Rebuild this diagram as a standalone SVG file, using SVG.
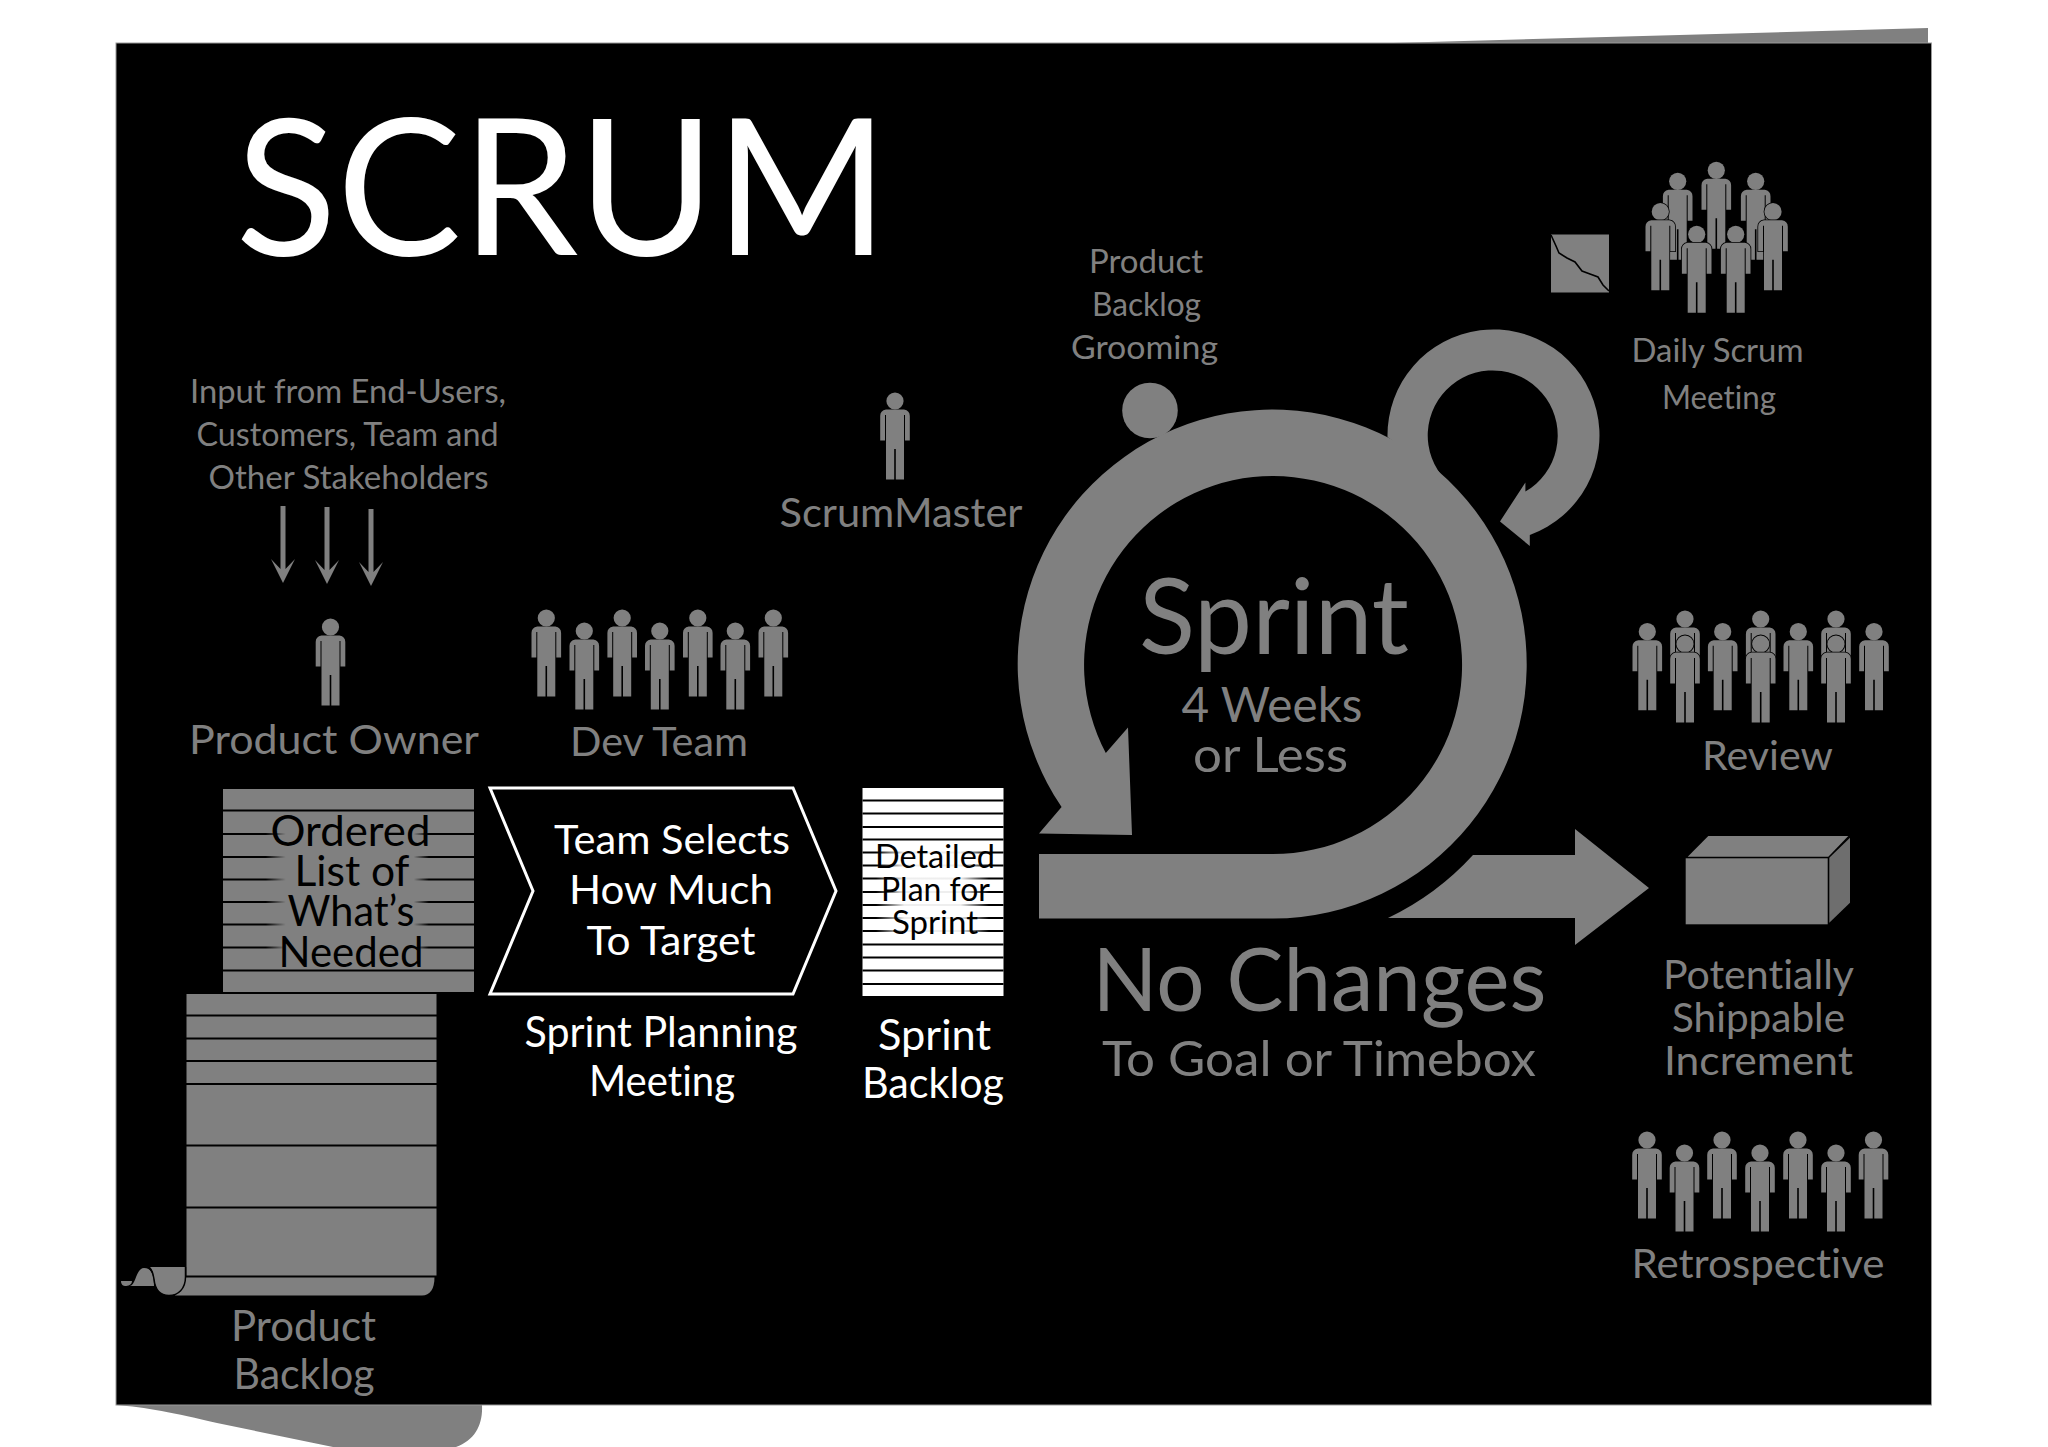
<svg xmlns="http://www.w3.org/2000/svg" xmlns:xlink="http://www.w3.org/1999/xlink" width="2048" height="1447" viewBox="0 0 2048 1447">
<style>
text{font-family:"Lato","Liberation Sans",sans-serif;text-anchor:middle;font-variant-ligatures:none}
.g{fill:#808080}.w{fill:#fff}.k{fill:#000}
.front{stroke:#000;stroke-width:1.6;paint-order:stroke}
.ln{stroke:#000;stroke-width:2;fill:none}
.lnf{stroke:url(#fadeO);stroke-width:2;fill:none}
.lns{stroke:url(#fadeS);stroke-width:2;fill:none}
</style>
<defs>
<g id="person" fill="#808080">
<circle cx="0" cy="0" r="8.6"/>
<path d="M-9 8.5L9 8.5Q14.8 9.5 14.8 15L14.8 39.5L10 39.5L10 14L9 14L9 78.5L0.8 78.5L0.8 48L-0.8 48L-0.8 78.5L-9 78.5L-9 14L-10 14L-10 39.5L-14.8 39.5L-14.8 15Q-14.8 9.5-9 8.5Z"/>
</g>
<path id="input-arrow" fill="#808080" d="M-2.500-77L2.500-77L2.500-14L12-24L0 0L-12-24L-2.500-14Z"/>
<linearGradient id="fadeO" gradientUnits="userSpaceOnUse" x1="223" y1="0" x2="474" y2="0">
<stop offset="0" stop-color="#000"/><stop offset=".17" stop-color="#000"/><stop offset=".25" stop-color="#808080"/><stop offset=".76" stop-color="#808080"/><stop offset=".82" stop-color="#000"/><stop offset="1" stop-color="#000"/>
</linearGradient>
<linearGradient id="fadeS" gradientUnits="userSpaceOnUse" x1="862" y1="0" x2="1003" y2="0">
<stop offset="0" stop-color="#000"/><stop offset=".1" stop-color="#000"/><stop offset=".3" stop-color="#eee"/><stop offset=".7" stop-color="#eee"/><stop offset=".9" stop-color="#000"/><stop offset="1" stop-color="#000"/>
</linearGradient>
</defs>
<rect width="2048" height="1447" fill="#fff"/>
<g id="page">
<path class="g" d="M1393 43L1928 28L1928 43Z"/>
<path class="g" d="M116 1405C145 1407 175 1413 217 1423L333 1447L456 1447C475 1440 483 1425 482 1405Z"/>
<rect x="116" y="43" width="1815.5" height="1362" fill="#000" stroke="#999" stroke-width="1"/>
</g>
<text id="title" class="w" x="562" y="255" font-size="191" textLength="653" lengthAdjust="spacingAndGlyphs">SCRUM</text>

<g id="connectors">
<use href="#input-arrow" x="283" y="583"/>
<use href="#input-arrow" x="327" y="584"/>
<use href="#input-arrow" x="371" y="586"/>
</g>

<g id="stakeholders">
<text class="g" x="348" y="403" font-size="33" textLength="316" lengthAdjust="spacingAndGlyphs">Input from End-Users,</text>
<text class="g" x="347.500" y="446" font-size="33" textLength="302" lengthAdjust="spacingAndGlyphs">Customers, Team and</text>
<text class="g" x="348.500" y="489" font-size="33" textLength="280" lengthAdjust="spacingAndGlyphs">Other Stakeholders</text>
</g>
<g id="product-owner">
<use href="#person" x="330.500" y="627"/>
<text class="g" x="334" y="754" font-size="41" textLength="290" lengthAdjust="spacingAndGlyphs">Product Owner</text>
</g>
<g id="dev-team">
<use href="#person" x="546.300" y="618"/><use href="#person" x="584.300" y="631"/><use href="#person" x="622.200" y="618"/><use href="#person" x="659.800" y="631"/><use href="#person" x="697.800" y="618"/><use href="#person" x="735.300" y="631"/><use href="#person" x="773.300" y="618"/>
<text class="g" x="659" y="756" font-size="41" textLength="178" lengthAdjust="spacingAndGlyphs">Dev Team</text>
</g>
<g id="scrummaster">
<use href="#person" x="895" y="401"/>
<text class="g" x="901" y="527" font-size="41" textLength="243" lengthAdjust="spacingAndGlyphs">ScrumMaster</text>
</g>

<g id="ordered-list">
<rect class="g" x="223" y="789" width="251" height="203"/>
<path class="ln" d="M223 810.500H474M223 970.500H474"/>
<path class="lnf" d="M223 834H474M223 857H474M223 879.500H474M223 902H474M223 924.500H474M223 947.500H474"/>
<text class="k" x="350.500" y="846" font-size="42" textLength="160" lengthAdjust="spacingAndGlyphs">Ordered</text>
<text class="k" x="352" y="886" font-size="42" textLength="115" lengthAdjust="spacingAndGlyphs">List of</text>
<text class="k" x="351" y="926" font-size="42" textLength="127" lengthAdjust="spacingAndGlyphs">What’s</text>
<text class="k" x="351" y="967" font-size="42" textLength="145" lengthAdjust="spacingAndGlyphs">Needed</text>
</g>
<g id="product-backlog">
<rect class="g" x="186.500" y="994" width="250" height="282"/>
<path class="g" d="M175 1295.500L422 1295.500C430 1295.500 434.500 1289 434.500 1277L185 1277Z"/>
<path class="g" d="M150 1267L185.500 1267L185.500 1277C185.500 1289 178 1295.500 169 1295.500C160 1295.500 155 1289 154 1279C153 1273 152 1269 150 1267Z"/>
<path class="g" d="M130 1286C136 1285 136 1268 144 1268C152 1268 154 1276 154 1286Z"/>
<path class="g" d="M121 1281L132 1281C132 1285 128 1286 125 1286C122 1286 121 1283 121 1281Z"/>
<path class="ln" d="M186 1015.500H437M186 1038.500H437M186 1061H437M186 1084H437M186 1145.500H437M186 1207.500H437"/>
<path class="ln" d="M186 1276.500H437"/>
<path d="M185.500 1267L185.500 1277C185.500 1289 178 1295.500 169 1295.500C160 1295.500 155 1289 154 1279C153 1273 152 1269 148 1267" fill="none" stroke="#000" stroke-width="1.500"/>
<text class="g" x="303.500" y="1341" font-size="42" textLength="145" lengthAdjust="spacingAndGlyphs">Product</text>
<text class="g" x="304" y="1389" font-size="42" textLength="141" lengthAdjust="spacingAndGlyphs">Backlog</text>
</g>

<g id="sprint-planning">
<path d="M490 788L793 788L836 891L793 994L490 994L533 891Z" fill="#000" stroke="#fff" stroke-width="3"/>
<text class="w" x="672" y="854" font-size="41" textLength="236" lengthAdjust="spacingAndGlyphs">Team Selects</text>
<text class="w" x="671" y="904" font-size="41" textLength="204" lengthAdjust="spacingAndGlyphs">How Much</text>
<text class="w" x="671" y="954.500" font-size="41" textLength="169" lengthAdjust="spacingAndGlyphs">To Target</text>
<text class="w" x="661" y="1047" font-size="42" textLength="273" lengthAdjust="spacingAndGlyphs">Sprint Planning</text>
<text class="w" x="662" y="1096" font-size="42" textLength="146" lengthAdjust="spacingAndGlyphs">Meeting</text>
</g>
<g id="sprint-backlog">
<rect class="w" x="862.500" y="788" width="141" height="208"/>
<path class="ln" d="M862.500 800.500H1003.500M862.500 813.500H1003.500M862.500 827H1003.500M862.500 839.500H1003.500M862.500 944.500H1003.500M862.500 957.500H1003.500M862.500 970.500H1003.500M862.500 984H1003.500"/>
<path class="lns" d="M862.500 852.500H1003.500M862.500 865.500H1003.500M862.500 878.500H1003.500M862.500 892H1003.500M862.500 905H1003.500M862.500 918H1003.500M862.500 931H1003.500"/>
<text class="k" x="935" y="868" font-size="33" textLength="120" lengthAdjust="spacingAndGlyphs">Detailed</text>
<text class="k" x="935.500" y="901" font-size="33" textLength="109" lengthAdjust="spacingAndGlyphs">Plan for</text>
<text class="k" x="935" y="934" font-size="33" textLength="86" lengthAdjust="spacingAndGlyphs">Sprint</text>
<text class="w" x="934.500" y="1050" font-size="42" textLength="113" lengthAdjust="spacingAndGlyphs">Sprint</text>
<text class="w" x="933" y="1098" font-size="42" textLength="142" lengthAdjust="spacingAndGlyphs">Backlog</text>
</g>

<g id="sprint">
<path class="g" d="M1388 918A277 277 0 0 0 1473 855L1575 855L1575 829L1649 888L1575 945L1575 918Z"/>
<path class="g" d="M1387.500 437A106 106 0 1 1 1529.800 535L1529.800 546L1500 521.400L1525.400 482.600L1525.400 491.600A65 65 0 1 0 1446 480.600L1420 461Z"/>
<path class="g" d="M1039 854L1273 854A189 189 0 1 0 1105.800 753L1128 727.500L1132 835L1039 833.600L1061.600 807A254.500 254.500 0 1 1 1273 918.600L1039 918.600Z"/>
<text class="g" x="1274" y="654" font-size="104" textLength="270" lengthAdjust="spacingAndGlyphs">Sprint</text>
<text class="g" x="1272" y="721.500" font-size="48" textLength="181" lengthAdjust="spacingAndGlyphs">4 Weeks</text>
<text class="g" x="1270.500" y="771.600" font-size="48" textLength="155" lengthAdjust="spacingAndGlyphs">or Less</text>
<text class="g" x="1319.500" y="1011" font-size="87" textLength="454" lengthAdjust="spacingAndGlyphs">No Changes</text>
<text class="g" x="1319" y="1076" font-size="49" textLength="434" lengthAdjust="spacingAndGlyphs">To Goal or Timebox</text>
</g>
<g id="grooming">
<circle class="g" cx="1150" cy="410.500" r="27.800"/>
<text class="g" x="1146" y="273" font-size="33" textLength="114" lengthAdjust="spacingAndGlyphs">Product</text>
<text class="g" x="1146.500" y="316" font-size="33" textLength="109" lengthAdjust="spacingAndGlyphs">Backlog</text>
<text class="g" x="1144.500" y="358.500" font-size="33" textLength="147" lengthAdjust="spacingAndGlyphs">Grooming</text>
</g>
<g id="daily-scrum">
<rect class="g" x="1551" y="234.500" width="58" height="58"/>
<path d="M1551 235L1556 246L1559 253L1567 258L1575 262L1582 271L1590 274L1598 277L1603 285L1609 291" fill="none" stroke="#000" stroke-width="1.600"/>
<use href="#person" x="1677.700" y="181.300"/><use href="#person" x="1716.300" y="170.300"/><use href="#person" x="1755.700" y="181.300"/>
<use class="front" href="#person" x="1660.300" y="211.700"/><use class="front" href="#person" x="1773" y="211.700"/>
<use class="front" href="#person" x="1696.700" y="234.300"/><use class="front" href="#person" x="1735.700" y="234.300"/>
<text class="g" x="1717.500" y="361.500" font-size="33" textLength="172" lengthAdjust="spacingAndGlyphs">Daily Scrum</text>
<text class="g" x="1719" y="409" font-size="33" textLength="114" lengthAdjust="spacingAndGlyphs">Meeting</text>
</g>
<g id="review">
<use href="#person" x="1685" y="619"/><use href="#person" x="1760.700" y="619"/><use href="#person" x="1836" y="619"/>
<use href="#person" x="1647.300" y="631.700"/><use href="#person" x="1722.700" y="631.700"/><use href="#person" x="1798.300" y="631.700"/><use href="#person" x="1874" y="631.700"/>
<use class="front" href="#person" x="1685" y="644"/><use class="front" href="#person" x="1760.700" y="644"/><use class="front" href="#person" x="1836" y="644"/>
<text class="g" x="1767.500" y="770" font-size="41" textLength="131" lengthAdjust="spacingAndGlyphs">Review</text>
</g>
<g id="increment">
<path class="g" d="M1687.700 856.700L1708.300 836L1848.300 836L1828.300 856.700Z"/>
<rect class="g" x="1685.700" y="858.300" width="142" height="66"/>
<path fill="#6e6e6e" d="M1829.300 857.700L1850 837.700L1850 902.700L1829.300 922.700Z"/>
<text class="g" x="1758.500" y="989" font-size="41" textLength="191" lengthAdjust="spacingAndGlyphs">Potentially</text>
<text class="g" x="1758.500" y="1032" font-size="41" textLength="173" lengthAdjust="spacingAndGlyphs">Shippable</text>
<text class="g" x="1758.500" y="1075" font-size="41" textLength="189" lengthAdjust="spacingAndGlyphs">Increment</text>
</g>
<g id="retrospective">
<use href="#person" x="1647" y="1140"/><use href="#person" x="1684.500" y="1153"/><use href="#person" x="1722" y="1140"/><use href="#person" x="1760" y="1153"/><use href="#person" x="1798" y="1140"/><use href="#person" x="1836" y="1153"/><use href="#person" x="1873.500" y="1140"/>
<text class="g" x="1758" y="1278" font-size="40" textLength="253" lengthAdjust="spacingAndGlyphs">Retrospective</text>
</g>
</svg>
